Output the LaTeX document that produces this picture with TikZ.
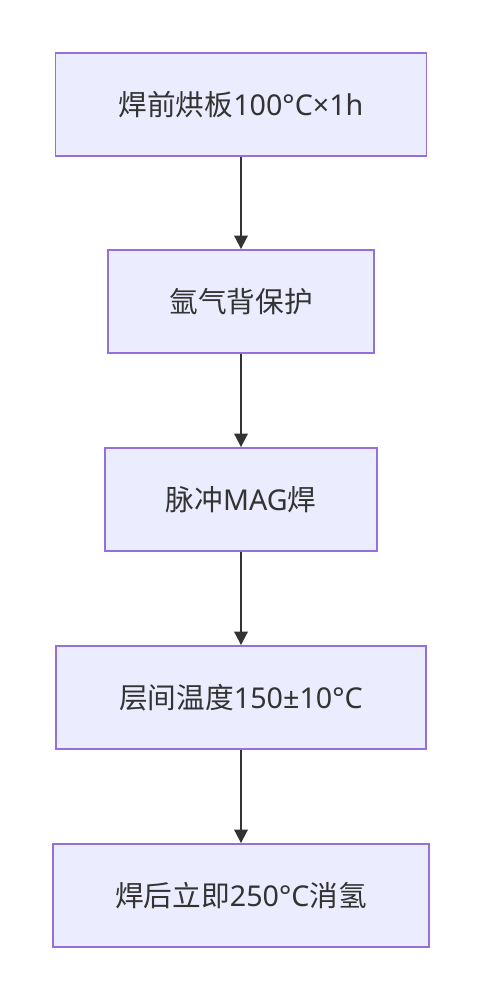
\documentclass[tikz,border=0pt]{standalone}
\usepackage{fontspec}
\setmainfont{Noto Sans CJK SC}
\newfontfamily\latinf{Noto Sans}
\usetikzlibrary{arrows.meta}
\definecolor{boxfill}{HTML}{ECECFF}
\definecolor{boxline}{HTML}{9370DB}
\definecolor{arrowc}{HTML}{333333}
\begin{document}
\begin{tikzpicture}[x=0.75pt,y=-0.75pt,
  stepbox/.style={draw=boxline,fill=boxfill,line width=1.4pt,minimum height=103*0.75pt,
    inner sep=0pt,text=arrowc,font=\fontsize{21.5pt}{25pt}\selectfont},
  flow/.style={draw=arrowc,line width=1.4pt,-{Triangle[length=10pt,width=10pt]}}]
\fill[white] (0,0) rectangle (482,1000);
\node[stepbox,minimum width=371*0.75pt] (a) at (241,104.5) {焊前烘板{\latinf 100°C×1h}};
\node[stepbox,minimum width=266*0.75pt] (b) at (241,301.5) {氩气背保护};
\node[stepbox,minimum width=272*0.75pt] (c) at (241,499.5) {脉冲{\latinf MAG}焊};
\node[stepbox,minimum width=370*0.75pt] (d) at (241,697.5) {层间温度{\latinf 150±10°C}};
\node[stepbox,minimum width=376*0.75pt] (e) at (241,895.5) {焊后立即{\latinf 250°C}消氢};
\draw[flow] (a) -- (b);
\draw[flow] (b) -- (c);
\draw[flow] (c) -- (d);
\draw[flow] (d) -- (e);
\end{tikzpicture}
\end{document}
